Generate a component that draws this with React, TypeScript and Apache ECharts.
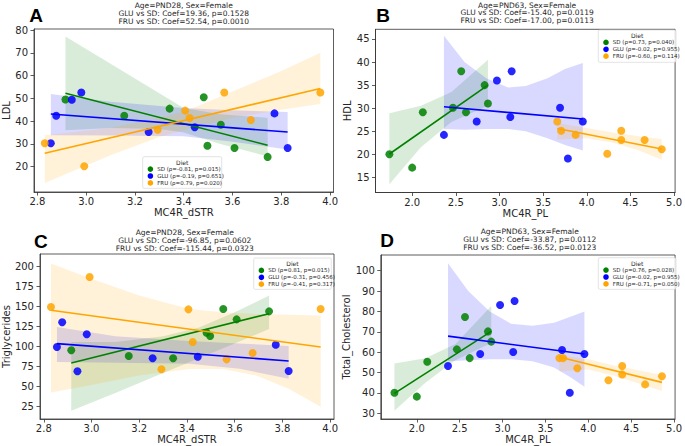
import React, { useEffect, useRef } from "react";
import * as echarts from "echarts";

// ---------------- data ----------------
const GROUP_NAMES = ["SD", "GLU", "FRU"];
const POINT_COLORS = ["#008000", "#0000ff", "#ffa500"];
const BAND_COLORS = ["rgba(0,128,0,0.15)", "rgba(0,0,255,0.15)", "rgba(255,165,0,0.15)"];

// MC4R_dSTR (panels A and C)
const dstrSD = [2.915, 3.156, 3.342, 3.482, 3.497, 3.552, 3.608, 3.744];
const dstrGLU = [2.855, 2.877, 2.941, 2.98, 3.256, 3.445, 3.772, 3.826];
const dstrFRU = [2.83, 2.992, 3.293, 3.406, 3.424, 3.566, 3.675, 3.96];
const ldlSD = [49.5, 42.4, 45.5, 50.5, 29.2, 38.4, 28.2, 24.3];
const ldlGLU = [30.3, 42.4, 49.4, 52.6, 35.2, 37.3, 43.4, 28.2];
const ldlFRU = [30.3, 20.2, 36.2, 44.6, 41.4, 52.6, 40.5, 52.6];
const tgSD = [95.5, 88.4, 85.5, 117.5, 113.4, 147.1, 134.2, 144.2];
const tgGLU = [99.6, 130.5, 69.2, 115.5, 85.5, 87.5, 102.5, 69.6];
const tgFRU = [149.6, 187.1, 71.7, 146.7, 105.9, 84.2, 92.1, 147.1];

// MC4R_PL (panels B and D)
const plSD = [1.739, 2.0, 2.122, 2.467, 2.562, 2.617, 2.83, 2.868];
const plGLU = [2.364, 2.739, 2.971, 3.124, 3.14, 3.694, 3.784, 3.955];
const plFRU = [3.662, 3.707, 3.872, 4.235, 4.395, 4.395, 4.663, 4.859];
const hdlSD = [20, 17.1, 29.1, 30.1, 38, 29.1, 35, 31];
const hdlGLU = [24.2, 27.1, 36, 28.1, 38, 30.1, 19.1, 27.1];
const hdlFRU = [27.1, 25.1, 24.2, 20.1, 25.1, 23.1, 23.1, 21.1];
const tcSD = [40.1, 38.2, 55.3, 61.4, 77.3, 57.1, 70.2, 65.2];
const tcGLU = [53.2, 59.1, 83.2, 60.1, 85.1, 61.1, 40.1, 59.1];
const tcFRU = [57.1, 57.1, 52.1, 46.2, 53.2, 49.1, 44.2, 48.2];

// regression lines (end points)
const fitLdlSD = [[2.915, 52.2], [3.744, 29.4]];
const fitLdlGLU = [[2.855, 43.1], [3.826, 35.2]];
const fitLdlFRU = [[2.83, 25.9], [3.96, 54.3]];
const fitTgSD = [[2.915, 79.6], [3.744, 141.3]];
const fitTgGLU = [[2.855, 103.8], [3.826, 82.1]];
const fitTgFRU = [[2.83, 145.5], [3.96, 99.6]];
const fitHdlSD = [[1.739, 20.06], [2.868, 35.0]];
const fitHdlGLU = [[2.364, 30.3], [3.955, 27.65]];
const fitHdlFRU = [[3.662, 25.6], [4.859, 21.15]];
const fitTcSD = [[1.739, 39.8], [2.868, 70.2]];
const fitTcGLU = [[2.364, 67.9], [3.955, 59.1]];
const fitTcFRU = [[3.662, 57.6], [4.859, 45.2]];

// confidence bands [x, lower, upper]
const bandLdlSD = [[2.915, 36, 77.2], [3.1, 37, 65.2], [3.3, 36.5, 52.2], [3.4, 35, 45.8], [3.55, 30, 43], [3.744, 24.5, 41.5]];
const bandLdlGLU = [[2.855, 33.8, 51.9], [3.1, 33.7, 48.5], [3.4, 33.4, 45.8], [3.6, 31, 44.8], [3.826, 27.5, 44]];
const bandLdlFRU = [[2.83, 12.8, 33.8], [3.1, 25, 37], [3.3, 33, 41.5], [3.4, 36, 44], [3.6, 41.5, 53], [3.8, 45, 62], [3.96, 47.5, 70]];
const bandTgSD = [[2.915, 20, 106], [3.1, 42, 106], [3.3, 67, 113], [3.45, 85.5, 124], [3.6, 104, 143], [3.744, 122, 164]];
const bandTgGLU = [[2.855, 81, 124.5], [3.1, 80, 113], [3.41, 78.8, 107], [3.62, 72.5, 104], [3.826, 60, 101]];
const bandTgFRU = [[2.83, 42.6, 204], [3.0, 52, 185], [3.2, 64, 164], [3.41, 72, 147], [3.55, 72, 143], [3.69, 64, 141], [3.826, 47.5, 140], [3.96, 25, 139]];
const bandHdlSD = [[1.739, 13.5, 28.9], [2.1, 21.5, 30.5], [2.45, 27, 33.5], [2.868, 30.5, 40.5]];
const bandHdlGLU = [[2.364, 25.5, 45.7], [2.6, 25.3, 40], [2.85, 25.5, 36.5], [3.1, 25.5, 34.5], [3.3, 25, 34.8], [3.55, 23.5, 36.5], [3.75, 22, 38.5], [3.955, 20.8, 39.8]];
const bandHdlFRU = [[3.662, 23.2, 26.8], [4.0, 23.5, 25.7], [4.3, 22.5, 24.7], [4.6, 20.8, 23.9], [4.859, 18.8, 23.3]];
const bandTcSD = [[1.739, 31.3, 54.5], [2.1, 45, 57], [2.45, 56, 64], [2.868, 64.5, 82.7]];
const bandTcGLU = [[2.364, 55.5, 103.6], [2.6, 56, 90], [2.85, 56.5, 80], [3.1, 56.5, 74], [3.35, 55.5, 73], [3.6, 52.5, 74.5], [3.8, 47.5, 77.5], [3.955, 43, 80]];
const bandTcFRU = [[3.662, 50.5, 58.6], [4.0, 51.5, 56.5], [4.3, 48.5, 53.5], [4.6, 44.5, 51], [4.859, 41, 48.8]];

// ticks
const ticksDstr = [2.8, 3.0, 3.2, 3.4, 3.6, 3.8, 4.0];
const ticksPl = [2.0, 2.5, 3.0, 3.5, 4.0, 4.5, 5.0];
const ticksLdl = [20, 30, 40, 50, 60, 70, 80];
const ticksHdl = [15, 20, 25, 30, 35, 40, 45];
const ticksTg = [25, 50, 75, 100, 125, 150, 175, 200];
const ticksTc = [30, 40, 50, 60, 70, 80, 90, 100];

// texts
const titlesA = ["Age=PND28, Sex=Female", "GLU vs SD: Coef=19.36, p=0.1528", "FRU vs SD: Coef=52.54, p=0.0010"];
const titlesB = ["Age=PND63, Sex=Female", "GLU vs SD: Coef=-15.40, p=0.0119", "FRU vs SD: Coef=-17.00, p=0.0113"];
const titlesC = ["Age=PND28, Sex=Female", "GLU vs SD: Coef=-96.85, p=0.0602", "FRU vs SD: Coef=-115.44, p=0.0323"];
const titlesD = ["Age=PND63, Sex=Female", "GLU vs SD: Coef=-33.87, p=0.0112", "FRU vs SD: Coef=-36.52, p=0.0123"];
const legendA = ["SD (ρ=-0.81, p=0.015)", "GLU (ρ=-0.19, p=0.651)", "FRU (ρ=0.79, p=0.020)"];
const legendB = ["SD (ρ=0.73, p=0.040)", "GLU (ρ=-0.02, p=0.955)", "FRU (ρ=-0.60, p=0.114)"];
const legendC = ["SD (ρ=0.81, p=0.015)", "GLU (ρ=-0.31, p=0.456)", "FRU (ρ=-0.41, p=0.317)"];
const legendD = ["SD (ρ=0.76, p=0.028)", "GLU (ρ=-0.02, p=0.955)", "FRU (ρ=-0.71, p=0.050)"];

// ---------------- layout ----------------
const FONT = "DejaVu Sans";
const TEXT = "#262626";
const FRAME = "#333333";

const panels = [
  {
    letter: "A", letterPos: [36, 15],
    grid: { left: 34, top: 29, width: 299.5, height: 163 },
    xRange: [2.786, 4.014], yRange: [8.9, 80.44],
    xTicks: ticksDstr, yTicks: ticksLdl, xName: "MC4R_dSTR", yName: "LDL", yGap: 18.5,
    titles: titlesA, titleY: [5, 13, 21],
    legend: legendA, legendBox: [142.7, 156.7, 79, 31.6],
    xs: [dstrSD, dstrGLU, dstrFRU], ys: [ldlSD, ldlGLU, ldlFRU],
    fits: [fitLdlSD, fitLdlGLU, fitLdlFRU], bands: [bandLdlSD, bandLdlGLU, bandLdlFRU],
  },
  {
    letter: "B", letterPos: [383, 15],
    grid: { left: 375.5, top: 29.3, width: 303.3, height: 163.2 },
    xRange: [1.58, 5.012], yRange: [11.71, 47.1],
    xTicks: ticksPl, yTicks: ticksHdl, xName: "MC4R_PL", yName: "HDL", yGap: 17.5,
    titles: titlesB, titleY: [5, 12.7, 20.3],
    legend: legendB, legendBox: [598.3, 30, 77.7, 32.3],
    xs: [plSD, plGLU, plFRU], ys: [hdlSD, hdlGLU, hdlFRU],
    fits: [fitHdlSD, fitHdlGLU, fitHdlFRU], bands: [bandHdlSD, bandHdlGLU, bandHdlFRU],
  },
  {
    letter: "C", letterPos: [40.8, 241.7],
    grid: { left: 35.5, top: 254, width: 298.5, height: 165 },
    xRange: [2.784, 4.016], yRange: [9.6, 215.9],
    xTicks: ticksDstr, yTicks: ticksTg, xName: "MC4R_dSTR", yName: "Triglycerides", yGap: 23.5,
    titles: titlesC, titleY: [232.7, 240.5, 248.3],
    legend: legendC, legendBox: [253.7, 258, 77.6, 31.3],
    xs: [dstrSD, dstrGLU, dstrFRU], ys: [tgSD, tgGLU, tgFRU],
    fits: [fitTgSD, fitTgGLU, fitTgFRU], bands: [bandTgSD, bandTgGLU, bandTgFRU],
  },
  {
    letter: "D", letterPos: [387, 240],
    grid: { left: 380.8, top: 255, width: 297.9, height: 164 },
    xRange: [1.58, 5.012], yRange: [27.22, 107.7],
    xTicks: ticksPl, yTicks: ticksTc, xName: "MC4R_PL", yName: "Total_Cholesterol", yGap: 23,
    titles: titlesD, titleY: [231.7, 239.5, 247.3],
    legend: legendD, legendBox: [598.3, 257.7, 77.7, 31.6],
    xs: [plSD, plGLU, plFRU], ys: [tcSD, tcGLU, tcFRU],
    fits: [fitTcSD, fitTcGLU, fitTcFRU], bands: [bandTcSD, bandTcGLU, bandTcFRU],
  },
];

function bandSeries(idx: number, band: number[][], fill: string) {
  return {
    type: "custom",
    xAxisIndex: idx,
    yAxisIndex: idx,
    data: band,
    encode: { x: 0, y: [1, 2] },
    silent: true,
    z: 2,
    renderItem: (params: any, api: any) => {
      if (params.dataIndex !== 0) return null;
      const upper = band.map((p) => api.coord([p[0], p[2]]));
      const lower = band.slice().reverse().map((p) => api.coord([p[0], p[1]]));
      return {
        type: "polygon",
        shape: { points: upper.concat(lower) },
        style: { fill, stroke: "none" },
      };
    },
  };
}

function buildOption() {
  const grids: any[] = [];
  const xAxes: any[] = [];
  const yAxes: any[] = [];
  const series: any[] = [];
  const graphics: any[] = [];

  panels.forEach((p, i) => {
    grids.push({
      ...p.grid,
      show: true,
      borderColor: FRAME,
      borderWidth: 0.8,
      backgroundColor: "transparent",
    });
    const tickStyle = { color: FRAME, width: 0.8 };
    xAxes.push({
      type: "value",
      gridIndex: i,
      min: p.xRange[0],
      max: p.xRange[1],
      axisLine: { show: true, onZero: false, lineStyle: tickStyle },
      axisTick: { show: true, length: 3.5, lineStyle: tickStyle, customValues: p.xTicks },
      axisLabel: {
        customValues: p.xTicks,
        formatter: (v: number) => v.toFixed(1),
        fontSize: 10,
        fontFamily: FONT,
        color: TEXT,
        margin: 4.5,
      },
      splitLine: { show: false },
      name: p.xName,
      nameLocation: "middle",
      nameGap: 15.5,
      nameTextStyle: { fontSize: 10, fontFamily: FONT, color: TEXT },
    });
    yAxes.push({
      type: "value",
      gridIndex: i,
      min: p.yRange[0],
      max: p.yRange[1],
      axisLine: { show: true, onZero: false, lineStyle: tickStyle },
      axisTick: { show: true, length: 3.5, lineStyle: tickStyle, customValues: p.yTicks },
      axisLabel: {
        customValues: p.yTicks,
        formatter: (v: number) => String(Math.round(v)),
        fontSize: 10,
        fontFamily: FONT,
        color: TEXT,
        margin: 6,
      },
      splitLine: { show: false },
      name: p.yName,
      nameLocation: "middle",
      nameGap: p.yGap,
      nameTextStyle: { fontSize: 10, fontFamily: FONT, color: TEXT },
    });

    // scatter + band per group (in drawing order), lines on top
    for (let g = 0; g < 3; g++) {
      series.push({
        type: "scatter",
        name: p.letter + GROUP_NAMES[g],
        xAxisIndex: i,
        yAxisIndex: i,
        data: p.xs[g].map((x, k) => [x, p.ys[g][k]]),
        symbol: "circle",
        symbolSize: 8,
        itemStyle: { color: POINT_COLORS[g], opacity: 0.85 },
        silent: true,
        z: 2,
      });
      series.push(bandSeries(i, p.bands[g], BAND_COLORS[g]));
    }
    for (let g = 0; g < 3; g++) {
      series.push({
        type: "line",
        xAxisIndex: i,
        yAxisIndex: i,
        data: p.fits[g],
        symbol: "none",
        lineStyle: { color: POINT_COLORS[g], width: 1.6 },
        silent: true,
        z: 3,
      });
    }

    // titles
    const cx = p.grid.left + p.grid.width / 2;
    p.titles.forEach((t, k) => {
      graphics.push({
        type: "text",
        x: cx,
        y: p.titleY[k],
        z: 50,
        style: { text: t, fontSize: 7.5, fontFamily: FONT, fill: TEXT, align: "center", verticalAlign: "middle" },
      });
    });
    // panel letter
    graphics.push({
      type: "text",
      x: p.letterPos[0],
      y: p.letterPos[1],
      z: 50,
      style: {
        text: p.letter,
        fontSize: 19,
        fontWeight: "bold",
        fontFamily: "Liberation Sans",
        fill: "#000",
        align: "center",
        verticalAlign: "middle",
      },
    });
    // legend
    const [lx, ly, lw, lh] = p.legendBox;
    graphics.push({
      type: "rect",
      z: 60,
      shape: { x: lx, y: ly, width: lw, height: lh, r: 1.5 },
      style: { fill: "rgba(255,255,255,0.8)", stroke: "#d0d0d0", lineWidth: 0.6 },
    });
    graphics.push({
      type: "text",
      z: 61,
      x: lx + lw / 2,
      y: ly + 5.3,
      style: { text: "Diet", fontSize: 6, fontFamily: FONT, fill: TEXT, align: "center", verticalAlign: "middle" },
    });
    p.legend.forEach((label, k) => {
      const yy = ly + 12.4 + k * 6.9;
      graphics.push({
        type: "circle",
        z: 61,
        shape: { cx: lx + 7.7, cy: yy, r: 2.8 },
        style: { fill: POINT_COLORS[k] },
      });
      graphics.push({
        type: "text",
        z: 61,
        x: lx + 14.5,
        y: yy,
        style: { text: label, fontSize: 5.5, fontFamily: FONT, fill: TEXT, align: "left", verticalAlign: "middle" },
      });
    });
  });

  return {
    animation: false,
    backgroundColor: "#ffffff",
    grid: grids,
    xAxis: xAxes,
    yAxis: yAxes,
    series,
    graphic: { elements: graphics },
  };
}

export default function App() {
  const ref = useRef<HTMLDivElement>(null);
  useEffect(() => {
    if (!ref.current) return;
    const chart = echarts.init(ref.current, undefined, { renderer: "svg" });
    chart.setOption(buildOption() as any);
    return () => chart.dispose();
  }, []);
  return (
    <div
      ref={ref}
      style={{ position: "absolute", left: 0, top: 0, width: 685, height: 446, background: "#fff" }}
    />
  );
}
